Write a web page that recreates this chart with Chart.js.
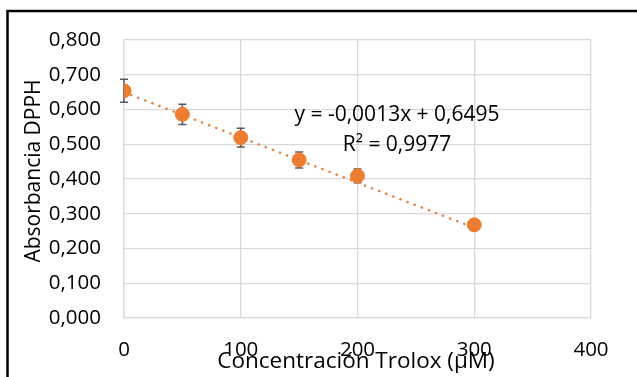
<!DOCTYPE html>
<html>
<head>
<meta charset="utf-8">
<script src="https://cdn.jsdelivr.net/npm/chart.js@4.4.1/dist/chart.umd.min.js"></script>
<style>
  html, body { margin: 0; padding: 0; background: #fff; overflow: hidden; }
  #wrap { width: 637px; height: 377px; position: relative; }
</style>
</head>
<body>
<div id="wrap"><canvas id="dpphChart" width="637" height="377"></canvas></div>
<script>
// Trolox calibration points (µM vs absorbance) with standard deviations
const concentrations = [0, 50, 100, 150, 200, 300];
const absorbance = [0.654, 0.586, 0.519, 0.455, 0.409, 0.268];
const stdDev = [0.033, 0.029, 0.027, 0.023, 0.020, 0.006];

// Linear fit as reported on the chart
const slope = -0.0013;
const intercept = 0.6495;
const rSquared = 0.9977;
const fitRange = [0, 300];

const xTicks = [0, 100, 200, 300, 400];
const yTicks = [0, 0.1, 0.2, 0.3, 0.4, 0.5, 0.6, 0.7, 0.8];

const ORANGE = '#ED7D31';
const FONT = "'Open Sans', sans-serif";

const fmt = (v, d) => v.toFixed(d).replace('.', ',');

// Error bars, drawn under the markers
const errorBars = {
    id: 'errorBars',
    beforeDatasetsDraw(chart) {
        const { ctx, scales: { x, y } } = chart;
        ctx.save();
        ctx.strokeStyle = '#595959';
        ctx.lineWidth = 1.5;
        concentrations.forEach((c, i) => {
            const px = x.getPixelForValue(c);
            const top = y.getPixelForValue(absorbance[i] + stdDev[i]);
            const bot = y.getPixelForValue(absorbance[i] - stdDev[i]);
            ctx.beginPath();
            ctx.moveTo(px, top); ctx.lineTo(px, bot);
            ctx.moveTo(px - 4, top); ctx.lineTo(px + 4, top);
            ctx.moveTo(px - 4, bot); ctx.lineTo(px + 4, bot);
            ctx.stroke();
        });
        ctx.restore();
    }
};

// Frame, axis titles and trendline equation
const annotations = {
    id: 'annotations',
    beforeDraw(chart) {
        const { ctx } = chart;
        ctx.save();
        ctx.fillStyle = '#fff';
        ctx.fillRect(0, 0, chart.width, chart.height);
        ctx.strokeStyle = '#000';
        ctx.lineWidth = 2.5;
        ctx.strokeRect(7.5, 11, 700, 500);
        ctx.restore();
    },
    afterDraw(chart) {
        const { ctx } = chart;
        ctx.save();
        ctx.fillStyle = '#000';
        ctx.textAlign = 'center';
        ctx.textBaseline = 'middle';
        ctx.font = '21px ' + FONT;
        ctx.fillText('y = ' + fmt(slope, 4) + 'x + ' + fmt(intercept, 4), 397, 115);
        ctx.fillText('R² = ' + fmt(rSquared, 4), 397, 145);
        ctx.font = '22.5px ' + FONT;
        ctx.fillText('Concentración Trolox (µM)', 356, 362);
        ctx.font = '21px ' + FONT;
        ctx.translate(34, 171);
        ctx.rotate(-Math.PI / 2);
        ctx.fillText('Absorbancia DPPH', 0, 0);
        ctx.restore();
    }
};

new Chart(document.getElementById('dpphChart'), {
    type: 'scatter',
    data: {
        datasets: [
            {
                label: 'Absorbancia',
                data: concentrations.map((c, i) => ({ x: c, y: absorbance[i] })),
                backgroundColor: ORANGE,
                borderColor: ORANGE,
                pointRadius: 7,
                pointHoverRadius: 7,
                order: 1
            },
            {
                label: 'Lineal',
                type: 'line',
                data: fitRange.map(c => ({ x: c, y: slope * c + intercept })),
                borderColor: ORANGE,
                borderWidth: 2.5,
                borderDash: [0.1, 7.5],
                borderCapStyle: 'round',
                pointRadius: 0,
                fill: false,
                order: 2
            }
        ]
    },
    options: {
        responsive: false,
        animation: false,
        layout: { padding: { left: 0, right: 46, top: 40, bottom: 0 } },
        scales: {
            x: {
                type: 'linear',
                min: 0,
                max: 400,
                afterBuildTicks: s => { s.ticks = xTicks.map(v => ({ value: v })); },
                afterFit: s => { s.height = 377 - 318; },
                ticks: {
                    color: '#000',
                    font: { family: FONT, size: 20.5 },
                    padding: 20,
                    maxRotation: 0
                },
                grid: { color: '#d9d9d9', lineWidth: 1.3, drawTicks: false },
                border: { color: '#d9d9d9', width: 1.3 }
            },
            y: {
                min: 0,
                max: 0.8,
                afterBuildTicks: s => { s.ticks = yTicks.map(v => ({ value: v })); },
                afterFit: s => { s.width = 124; },
                ticks: {
                    color: '#000',
                    font: { family: FONT, size: 20.5 },
                    padding: 23,
                    callback: v => fmt(v, 3)
                },
                grid: { color: '#d9d9d9', lineWidth: 1.3, drawTicks: false },
                border: { color: '#d9d9d9', width: 1.3 }
            }
        },
        plugins: {
            legend: { display: false },
            tooltip: { enabled: false }
        }
    },
    plugins: [errorBars, annotations]
});
</script>
</body>
</html>
